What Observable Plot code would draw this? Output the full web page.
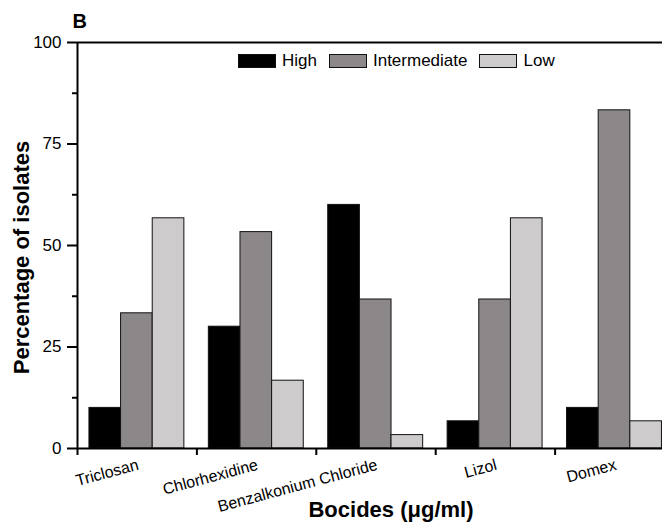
<!DOCTYPE html>
<html><head><meta charset="utf-8">
<script src="https://cdn.jsdelivr.net/npm/d3@7"></script>
<script src="https://cdn.jsdelivr.net/npm/@observablehq/plot@0.6"></script>
<style>
body{margin:0;background:#fff;}
#wrap{position:relative;width:662px;height:525px;font-family:"Liberation Sans",Arial,sans-serif;}
#legend{position:absolute;left:238px;top:54px;display:flex;align-items:center;font-size:17px;color:#000;line-height:14px;}
.item{display:flex;align-items:center;margin-right:12px;}
.sw{width:36px;height:12px;border:1px solid #111;margin-right:6px;}
g[aria-label^="y-axis"] path, g[aria-label^="y-axis"] line{stroke-width:2;}
g[aria-label^="x-axis"] path, g[aria-label^="x-axis"] line{stroke-width:2;}
g[aria-label^="y-axis"] text{font-size:17px;}
</style></head><body><div id="wrap"><div id="legend"></div></div>
<script>
const categories = ["Triclosan", "Chlorhexidine", "Benzalkonium Chloride", "Lizol", "Domex"];
const series = ["High", "Intermediate", "Low"];
const high = [10, 30, 60, 6.7, 10];
const intermediate = [33.3, 53.3, 36.7, 36.7, 83.3];
const low = [56.7, 16.7, 3.3, 56.7, 6.7];
const colors = ["#000000", "#8c8889", "#cdcbcc"];
const yTicks = [0, 25, 50, 75, 100];
const yMinorTicks = [12.5, 37.5, 62.5, 87.5];
const panelLabel = "B";
const xTitle = "Bocides (\u03bcg/ml)";
const yTitle = "Percentage of isolates";

const values = [high, intermediate, low];
const rows = [];
categories.forEach((c, i) => series.forEach((s, j) => rows.push({category: c, index: i, series: s, si: j, value: values[j][i]})));

const groupPad = 0.10, barW = 0.265;
const font = '"Liberation Sans", Arial, sans-serif';

const chart = Plot.plot({
  width: 662, height: 525,
  marginTop: 42, marginBottom: 77, marginLeft: 77, marginRight: 0,
  style: {fontFamily: font, fontSize: "17px", background: "white", overflow: "hidden", color: "#000"},
  x: {domain: [0, categories.length], range: [77, 674], ticks: d3.range(categories.length + 1), tickFormat: () => "", tickSize: 7, label: null},
  y: {domain: [0, 100], ticks: yTicks, tickSize: 10, tickPadding: 6, label: null},
  color: {domain: series, range: colors},
  marks: [
    Plot.rect(rows, {
      x1: d => d.index + groupPad + d.si * barW,
      x2: d => d.index + groupPad + (d.si + 1) * barW,
      y1: 0, y2: "value", fill: "series", stroke: "#111", strokeWidth: 1
    }),
    Plot.ruleY([0, 100], {strokeWidth: 2}),
    Plot.ruleX([0], {strokeWidth: 2}),
    Plot.ruleY(yMinorTicks, {x1: 0, x2: 0, insetLeft: -5, strokeWidth: 2}),
    Plot.text(categories, {x: (d, i) => i + 0.5, y: 0, text: d => d, dx: 1, dy: 16, rotate: -15, textAnchor: "end", lineAnchor: "middle", fontSize: 16}),
    Plot.text([xTitle], {text: d => d, frameAnchor: "bottom", textAnchor: "middle", lineAnchor: "middle", dx: 21, dy: 61, fontSize: 22, fontWeight: "bold"}),
    Plot.text([yTitle], {text: d => d, frameAnchor: "left", textAnchor: "middle", lineAnchor: "middle", rotate: -90, dx: -56, dy: 12, fontSize: 22, fontWeight: "bold"}),
    Plot.text([panelLabel], {text: d => d, frameAnchor: "top-left", textAnchor: "start", lineAnchor: "middle", dx: -5, dy: -21, fontSize: 20, fontWeight: "bold"})
  ]
});
document.getElementById("wrap").prepend(chart);

const legend = d3.select("#legend");
series.forEach((s, j) => {
  const item = legend.append("div").attr("class", "item");
  item.append("div").attr("class", "sw").style("background", colors[j]);
  item.append("span").text(s);
});
</script></body></html>
